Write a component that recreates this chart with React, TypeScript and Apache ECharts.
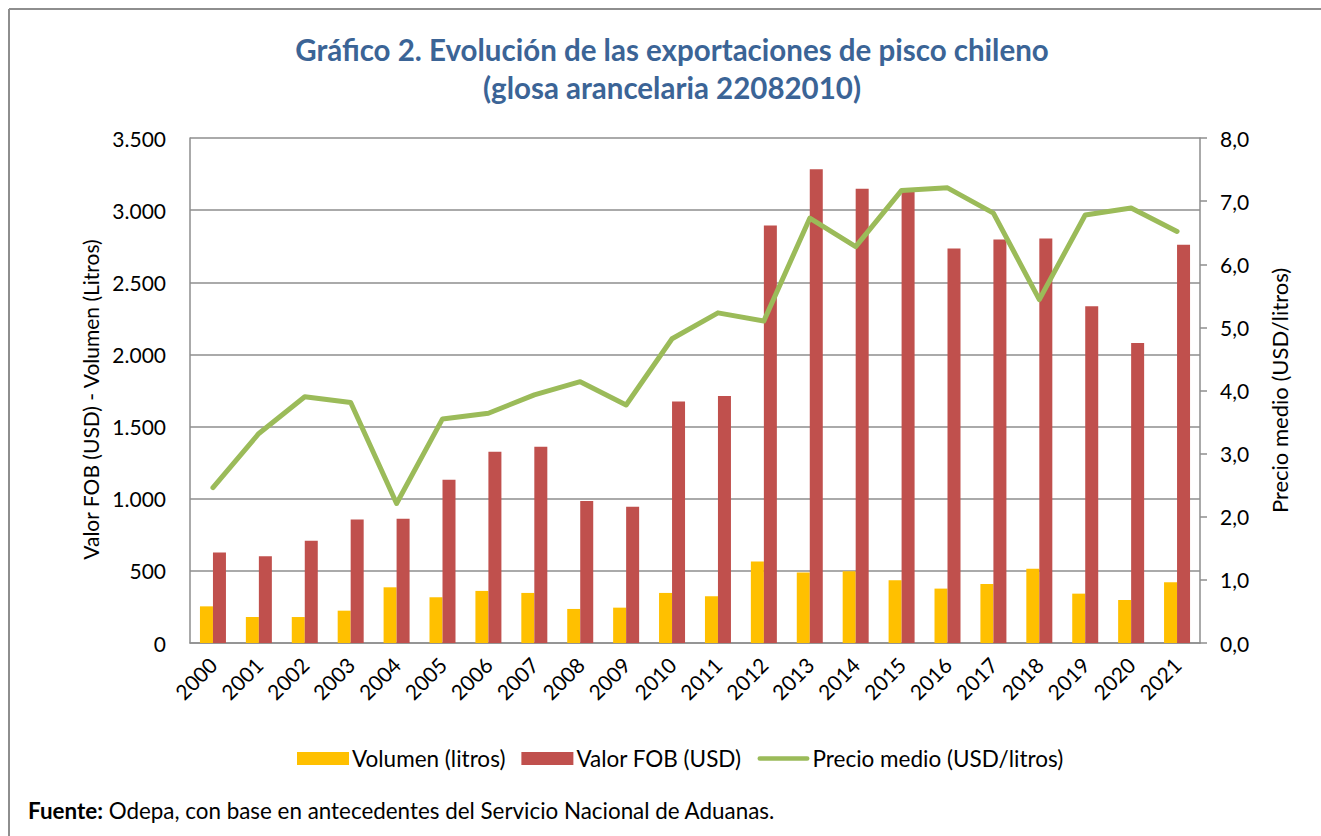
import React, { useEffect, useRef } from "react";
import * as echarts from "echarts";

const years = ["2000","2001","2002","2003","2004","2005","2006","2007","2008","2009","2010","2011","2012","2013","2014","2015","2016","2017","2018","2019","2020","2021"];
const volumen = [254,180,180,224,386,317,361,347,236,245,347,324,564,488,497,435,377,409,514,342,298,421];
const valorFob = [627,601,708,856,861,1131,1326,1360,985,944,1673,1712,2894,3283,3148,3140,2734,2797,2804,2334,2080,2760];
const precio = [2.46,3.32,3.90,3.81,2.21,3.55,3.64,3.93,4.14,3.77,4.82,5.23,5.10,6.73,6.28,7.17,7.21,6.81,5.44,6.78,6.89,6.52];

const FONT = "Lato";
const GRID = "#8E8E8E";
const LINE_ICON = "path://M2.5,0 H53.5 A2.5,2.5 0 0 1 53.5,5 H2.5 A2.5,2.5 0 0 1 2.5,0 Z";

export default function App() {
  const ref = useRef<HTMLDivElement>(null);
  useEffect(() => {
    const chart = echarts.init(ref.current!, null, { renderer: "svg" });
    chart.setOption({
      animation: false,
      backgroundColor: "#fff",
      textStyle: { fontFamily: FONT },
      title: {
        text: "Gráfico 2. Evolución de las exportaciones de pisco chileno\n(glosa arancelaria 22082010)",
        left: 672,
        top: 30,
        padding: 0,
        textAlign: "center",
        textStyle: { fontFamily: FONT, fontSize: 29.5, fontWeight: "bold", color: "#3B6496", lineHeight: 38 },
      },
      grid: { left: 190, right: 121, top: 138, bottom: 193, containLabel: false },
      legend: {
        left: 297,
        top: 747,
        padding: 0,
        itemWidth: 52,
        itemHeight: 13,
        itemGap: 16,
        textStyle: { fontFamily: FONT, fontSize: 22.5, color: "#000", padding: [0, 0, 0, -2] },
        data: [
          { name: "Volumen (litros)", icon: "rect" },
          { name: "Valor FOB (USD)", icon: "rect" },
          { name: "Precio medio (USD/litros)", icon: LINE_ICON, itemStyle: { color: "#9BBB59" } },
        ],
      },
      xAxis: {
        type: "category",
        data: years,
        axisLine: { lineStyle: { color: GRID, width: 1.5 } },
        axisTick: { show: false },
        axisLabel: { rotate: 45, color: "#000", fontSize: 21, fontFamily: FONT, margin: 18, interval: 0 },
      },
      yAxis: [
        {
          type: "value",
          min: 0,
          max: 3500,
          interval: 500,
          name: "Valor FOB (USD) - Volumen (Litros)",
          nameLocation: "middle",
          nameGap: 71,
          nameTextStyle: { fontFamily: FONT, fontSize: 21, color: "#000", padding: [0, 18, 0, 0] },
          axisLine: { show: true, lineStyle: { color: GRID, width: 1.5 } },
          axisTick: { show: false },
          splitLine: { lineStyle: { color: GRID, width: 1.5 } },
          axisLabel: {
            color: "#000",
            fontSize: 21,
            fontFamily: FONT,
            margin: 24,
            formatter: (v: number) => v.toLocaleString("de-DE"),
          },
        },
        {
          type: "value",
          min: 0,
          max: 8,
          interval: 1,
          position: "right",
          name: "Precio medio (USD/litros)",
          nameLocation: "middle",
          nameGap: 68,
          nameTextStyle: { fontFamily: FONT, fontSize: 22, color: "#000" },
          axisLine: { show: true, lineStyle: { color: GRID, width: 1.5 } },
          axisTick: { show: true, length: 7, lineStyle: { color: GRID, width: 1.5 } },
          splitLine: { show: false },
          axisLabel: {
            color: "#000",
            fontSize: 21,
            fontFamily: FONT,
            margin: 20,
            formatter: (v: number) => v.toFixed(1).replace(".", ","),
          },
        },
      ],
      series: [
        {
          name: "Volumen (litros)",
          type: "bar",
          data: volumen,
          barWidth: 13,
          barGap: "0%",
          itemStyle: { color: "#FFC000" },
        },
        {
          name: "Valor FOB (USD)",
          type: "bar",
          data: valorFob,
          barWidth: 13,
          barGap: "0%",
          itemStyle: { color: "#C0504D" },
        },
        {
          name: "Precio medio (USD/litros)",
          type: "line",
          yAxisIndex: 1,
          data: precio,
          symbol: "none",
          lineStyle: { color: "#9BBB59", width: 5, cap: "round", join: "round" },
          itemStyle: { color: "#9BBB59" },
          z: 5,
        },
      ],
      graphic: [
        { type: "line", shape: { x1: 9, y1: 9, x2: 1321, y2: 9 }, style: { stroke: "#8E8E8E", lineWidth: 2 } },
        { type: "line", shape: { x1: 9, y1: 9, x2: 9, y2: 836 }, style: { stroke: "#8E8E8E", lineWidth: 2 } },
        {
          type: "text",
          left: 28,
          top: 799,
          style: {
            text: "{b|Fuente:} Odepa, con base en antecedentes del Servicio Nacional de Aduanas.",
            fontFamily: FONT,
            fontSize: 22.4,
            fill: "#000",
            rich: { b: { fontWeight: "bold", fontFamily: FONT, fontSize: 22.4 } },
          },
        },
      ],
    });
    return () => chart.dispose();
  }, []);
  return <div ref={ref} style={{ position: "fixed", left: 0, top: 0, width: 1321, height: 836 }} />;
}
